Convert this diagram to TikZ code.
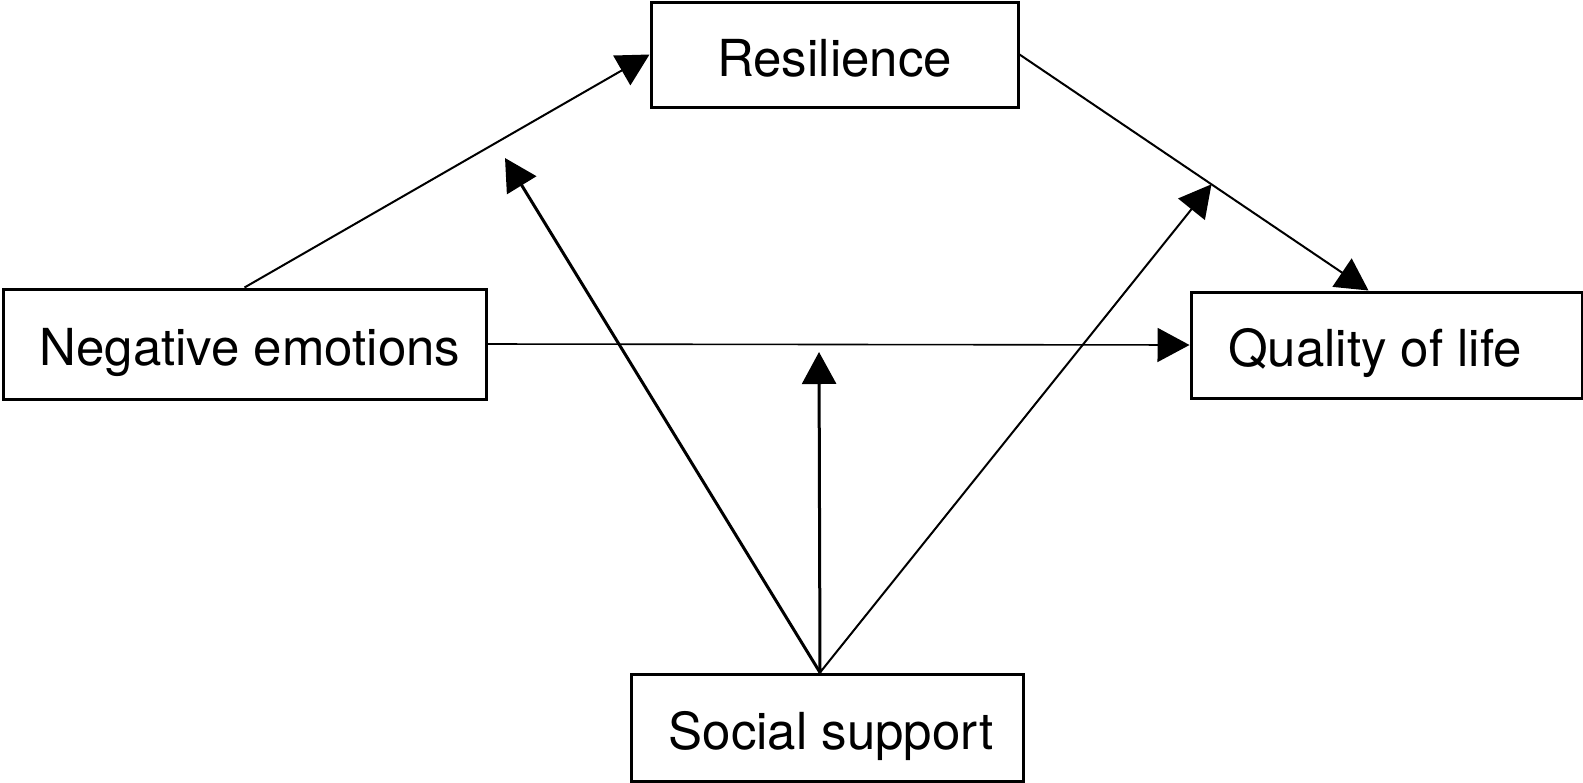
\documentclass[tikz,border=0pt]{standalone}
\usepackage{fontspec}
\setmainfont{TeX Gyre Heros}
\usetikzlibrary{arrows.meta,calc}

\begin{document}
\begin{tikzpicture}[
  x=0.5pt, y=-0.5pt,
  font=\fontsize{25.5}{30}\selectfont,
  box/.style={draw, line width=1.5pt, fill=white, inner sep=0pt, text height=21.5pt, text depth=0pt},
  arr/.style={-{Triangle[length=16pt,width=17pt]}, line width=1pt},
  arrthick/.style={arr, line width=1.5pt}
]
\useasboundingbox (0,0) rectangle (1583,782);
\node[box, minimum width=183.5pt, minimum height=52.5pt] (res) at (834.5,54.5) {Resilience};
\node[box, minimum width=241.5pt, minimum height=55pt] (neg) at (244.5,344) {\hspace*{5.5pt}Negative emotions};
\node[box, minimum width=195.5pt, minimum height=53pt] (qol) at (1386.5,345) {Quality of life\hspace*{11.5pt}};
\node[box, minimum width=196pt, minimum height=53.5pt] (soc) at (827,727.5) {\hspace*{4pt}Social support};

% moderation targets
\coordinate (src) at ([xshift=-3.5pt]soc.north);
\coordinate (modl) at (505,158);
\coordinate (modm) at (819,352);
\coordinate (modr) at ($(res.east)!0.55!([xshift=-9pt]qol.north)$);

\draw[arr] (neg.north) -- (res.west);
\draw[arr] (res.east) -- ([xshift=-9pt]qol.north);
\draw[arr, line width=0.8pt] (neg.east) -- (qol.west);
\draw[arrthick] (src) -- (modl);
\draw[arrthick] (src) -- (modm);
\draw[arr] (src) -- (modr);
\end{tikzpicture}
\end{document}
